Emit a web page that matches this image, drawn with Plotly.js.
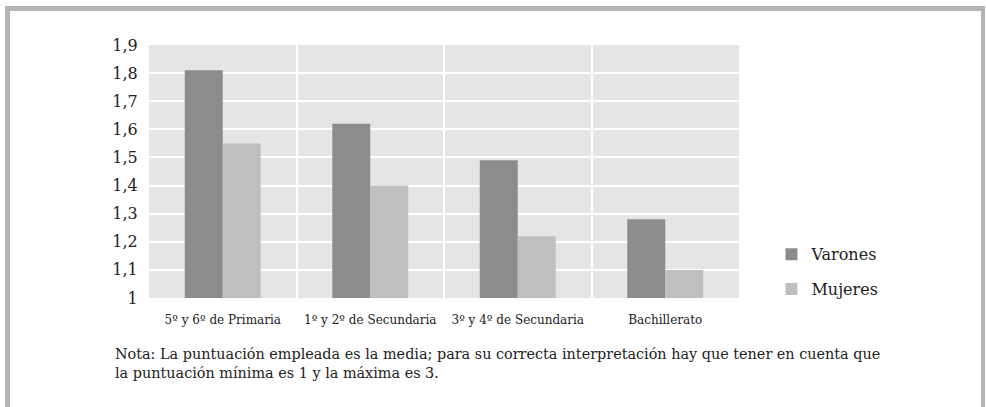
<!DOCTYPE html>
<html>
<head>
<meta charset="utf-8">
<script src="https://cdn.plot.ly/plotly-3.0.1.min.js"></script>
<style>
  html, body { margin: 0; padding: 0; background: #ffffff; }
  #wrap { position: relative; width: 986px; height: 407px; overflow: hidden; }
  #frame { position: absolute; left: 5px; top: 6px; width: 971px; height: 420px;
           border-top: 5px solid #b4b4b4; border-left: 5px solid #b4b4b4; border-right: 4px solid #b4b4b4;
           pointer-events: none; z-index: 5; }
  #chart { position: absolute; left: 0; top: 0; width: 986px; height: 407px; }
</style>
</head>
<body>
<div id="wrap">
  <div id="chart"></div>
  <div id="frame"></div>
</div>
<script>
const categories = ["5º y 6º de Primaria", "1º y 2º de Secundaria", "3º y 4º de Secundaria", "Bachillerato"];
const varones = [1.81, 1.62, 1.49, 1.28];
const mujeres = [1.55, 1.40, 1.22, 1.10];
const yTickVals = [1, 1.1, 1.2, 1.3, 1.4, 1.5, 1.6, 1.7, 1.8, 1.9];
const yTickText = ["1", "1,1", "1,2", "1,3", "1,4", "1,5", "1,6", "1,7", "1,8", "1,9"];
const noteText = "Nota: La puntuación empleada es la media; para su correcta interpretación hay que tener en cuenta que<br>la puntuación mínima es 1 y la máxima es 3.";

const fontFam = "DejaVu Serif, serif";

const traces = [
  { type: "bar", name: "Varones", x: categories, y: varones, legendgroup: "v",
    marker: { color: "#8c8c8c" }, hoverinfo: "skip" },
  { type: "bar", name: "Mujeres", x: categories, y: mujeres, legendgroup: "m",
    marker: { color: "#bfbfbf" }, hoverinfo: "skip" }
];

const layout = {
  width: 986, height: 407,
  margin: { l: 149, r: 247, t: 45, b: 109 },
  paper_bgcolor: "#ffffff",
  plot_bgcolor: "#e5e5e5",
  barmode: "group",
  bargap: 0.485,
  bargroupgap: 0,
  font: { family: fontFam, color: "#222222" },
  xaxis: {
    type: "category",
    tickson: "boundaries",
    showgrid: true, gridcolor: "#ffffff", gridwidth: 2,
    ticks: "", ticklabelstandoff: 13,
    tickfont: { family: fontFam, size: 12, color: "#222222" },
    showline: false, zeroline: false, fixedrange: true
  },
  yaxis: {
    range: [1, 1.9],
    tickmode: "array", tickvals: yTickVals, ticktext: yTickText,
    showgrid: true, gridcolor: "#ffffff", gridwidth: 2,
    ticks: "outside", ticklen: 7, tickcolor: "rgba(0,0,0,0)",
    tickfont: { family: fontFam, size: 16, color: "#222222" },
    showline: false, zeroline: false, fixedrange: true
  },
  showlegend: true,
  legend: {
    x: 1.055, xanchor: "left", y: 0.24, yanchor: "top",
    font: { family: fontFam, size: 16, color: "#222222" },
    tracegroupgap: 11, bgcolor: "rgba(0,0,0,0)"
  },
  annotations: [{
    text: noteText, xref: "paper", yref: "paper",
    x: -0.061, y: -0.183, xanchor: "left", yanchor: "top",
    align: "left", showarrow: false,
    font: { family: fontFam, size: 14.4, color: "#222222" }
  }]
};

Plotly.newPlot("chart", traces, layout, { displayModeBar: false, staticPlot: true });
</script>
</body>
</html>
